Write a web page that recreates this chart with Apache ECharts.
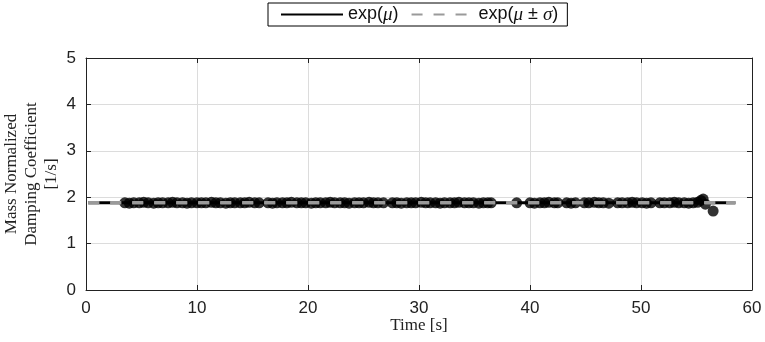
<!DOCTYPE html>
<html><head><meta charset="utf-8">
<script src="https://cdn.jsdelivr.net/npm/echarts@6/dist/echarts.min.js"></script>
<style>html,body{margin:0;padding:0;background:#fff}#c{width:765px;height:342px}</style>
</head><body><div id="c"></div>
<script>
// Mean fit exp(mu) and band exp(mu +/- sigma)
const fitTimes = [0.2, 58.5];
const meanValues = [1.88, 1.88];
const upperValues = [1.885, 1.885];
const lowerValues = [1.875, 1.875];

// Observed damping coefficients (black markers)
const obsTimes = [
  3.5, 3.9, 4.3, 4.8, 5.2, 5.6, 6.1, 6.5, 6.9, 7.4, 7.8, 8.2, 8.7, 9.1, 9.5, 10.0, 10.4, 10.8,
  11.3, 11.7, 12.1, 12.6, 13.0, 13.4, 13.9, 14.3, 14.7, 15.2, 15.6,
  16.4, 16.8, 17.2, 17.7, 18.1, 18.5, 19.0, 19.4, 19.8, 20.3, 20.7, 21.1, 21.6, 22.0, 22.4,
  22.9, 23.3, 23.7, 24.2, 24.6, 25.0, 25.5, 25.9, 26.3, 26.8,
  27.6, 28.0, 28.4, 28.9, 29.3, 29.7, 30.2, 30.6, 31.0, 31.5, 31.9, 32.3, 32.8, 33.2, 33.6,
  34.1, 34.5, 34.9, 35.4, 35.8, 36.2, 36.5,
  38.8,
  40.0, 40.4, 40.9, 41.3, 41.7, 42.2, 42.5, 43.3, 43.7, 44.1, 44.9, 45.3, 45.8, 46.2, 46.6, 47.1,
  47.9, 48.3, 48.8, 49.2, 49.6, 50.1, 50.5, 50.9, 51.7, 52.1, 52.6, 53.0, 53.4, 53.9, 54.3,
  54.7, 55.1, 55.4, 55.6, 55.8, 56.5
];
const obsValues = [
  1.88, 1.87, 1.88, 1.88, 1.89, 1.88, 1.87, 1.88, 1.88, 1.88, 1.89, 1.88, 1.88, 1.87, 1.88, 1.88, 1.88, 1.88,
  1.89, 1.88, 1.88, 1.87, 1.88, 1.88, 1.88, 1.88, 1.89, 1.88, 1.88,
  1.88, 1.87, 1.88, 1.88, 1.88, 1.89, 1.88, 1.88, 1.88, 1.87, 1.88, 1.88, 1.88, 1.89, 1.88,
  1.88, 1.88, 1.87, 1.88, 1.88, 1.88, 1.89, 1.88, 1.88, 1.88,
  1.88, 1.88, 1.87, 1.88, 1.88, 1.88, 1.89, 1.88, 1.88, 1.88, 1.87, 1.88, 1.88, 1.88, 1.89,
  1.88, 1.88, 1.88, 1.87, 1.88, 1.88, 1.88,
  1.88,
  1.88, 1.87, 1.88, 1.88, 1.89, 1.88, 1.88, 1.88, 1.87, 1.88, 1.88, 1.88, 1.89, 1.88, 1.88, 1.87,
  1.88, 1.88, 1.88, 1.89, 1.88, 1.88, 1.87, 1.88, 1.88, 1.88, 1.88, 1.89, 1.88, 1.88, 1.87,
  1.88, 1.89, 1.93, 1.96, 1.85, 1.70
];

const xMin = 0, xMax = 60, xStep = 10;
const yMin = 0, yMax = 5, yStep = 1;
const meanName = 'exp(μ)';
const bandName = 'exp(μ ± σ)';

const zip = (a, b) => a.map((v, i) => [v, b[i]]);
const chart = echarts.init(document.getElementById('c'), null, {renderer: 'canvas'});

const labelFont = {fontFamily: 'Liberation Sans, Arial, sans-serif', fontSize: 17, color: '#222'};
const axisLine = {show: true, onZero: false, lineStyle: {color: '#222', width: 1}};
const axisTick = {show: true, inside: true, length: 5, lineStyle: {color: '#222'}};
const splitLine = {show: true, lineStyle: {color: '#dcdcdc', width: 1}};

chart.setOption({
  animation: false,
  backgroundColor: '#fff',
  grid: {left: 86, right: 13, top: 58, bottom: 52, containLabel: false, outerBoundsMode: 'none'},
  legend: {
    data: [meanName, bandName],
    left: 268, top: 3,
    padding: [2, 9, 2, 12],
    borderColor: '#000', borderWidth: 1,
    itemWidth: 62, itemHeight: 10, itemGap: 12,
    itemStyle: {opacity: 0},
    formatter: n => n === meanName ? 'exp({i|μ})' : 'exp({i|μ} ± {i|σ})',
    textStyle: {
      fontFamily: 'Liberation Sans, Arial, sans-serif', fontSize: 18, color: '#111',
      rich: {i: {fontFamily: 'Liberation Serif, serif', fontStyle: 'italic', fontSize: 19, color: '#111'}}
    }
  },
  xAxis: [
    {type: 'value', min: xMin, max: xMax, interval: xStep, position: 'bottom',
     name: 'Time [s]', nameLocation: 'middle', nameGap: 27, nameMoveOverlap: false,
     nameTextStyle: {fontFamily: 'Liberation Serif, serif', fontSize: 17, color: '#222'},
     axisLine, axisTick, splitLine, axisLabel: Object.assign({margin: 10}, labelFont)},
    {type: 'value', min: xMin, max: xMax, interval: xStep, position: 'top',
     axisLine, axisTick, splitLine: {show: false}, axisLabel: {show: false}}
  ],
  yAxis: [
    {type: 'value', min: yMin, max: yMax, interval: yStep, position: 'left',
     name: 'Mass Normalized\nDamping Coefficient\n[1/s]', nameLocation: 'middle', nameGap: 24,
     nameRotate: 90, nameMoveOverlap: false,
     nameTextStyle: {fontFamily: 'Liberation Serif, serif', fontSize: 17, color: '#222', lineHeight: 20, align: 'center'},
     axisLine, axisTick, splitLine, axisLabel: Object.assign({margin: 10}, labelFont)},
    {type: 'value', min: yMin, max: yMax, interval: yStep, position: 'right',
     axisLine, axisTick, splitLine: {show: false}, axisLabel: {show: false}}
  ],
  series: [
    {type: 'scatter', name: 'data', data: zip(obsTimes, obsValues), symbol: 'circle', symbolSize: 11,
     itemStyle: {color: '#000'}, z: 2, silent: true},
    {type: 'line', name: meanName, data: zip(fitTimes, meanValues), symbol: 'none', showSymbol: false,
     lineStyle: {color: '#000', width: 3}, itemStyle: {color: '#000'}, z: 3},
    {type: 'line', name: bandName, data: zip(fitTimes, upperValues), symbol: 'none', showSymbol: false,
     lineStyle: {color: '#9a9a9a', width: 3, type: [11, 11]}, itemStyle: {color: '#9a9a9a'}, z: 4},
    {type: 'line', name: bandName, data: zip(fitTimes, lowerValues), symbol: 'none', showSymbol: false,
     lineStyle: {color: '#9a9a9a', width: 3, type: [11, 11]}, itemStyle: {color: '#9a9a9a'}, z: 4}
  ]
});
</script></body></html>
